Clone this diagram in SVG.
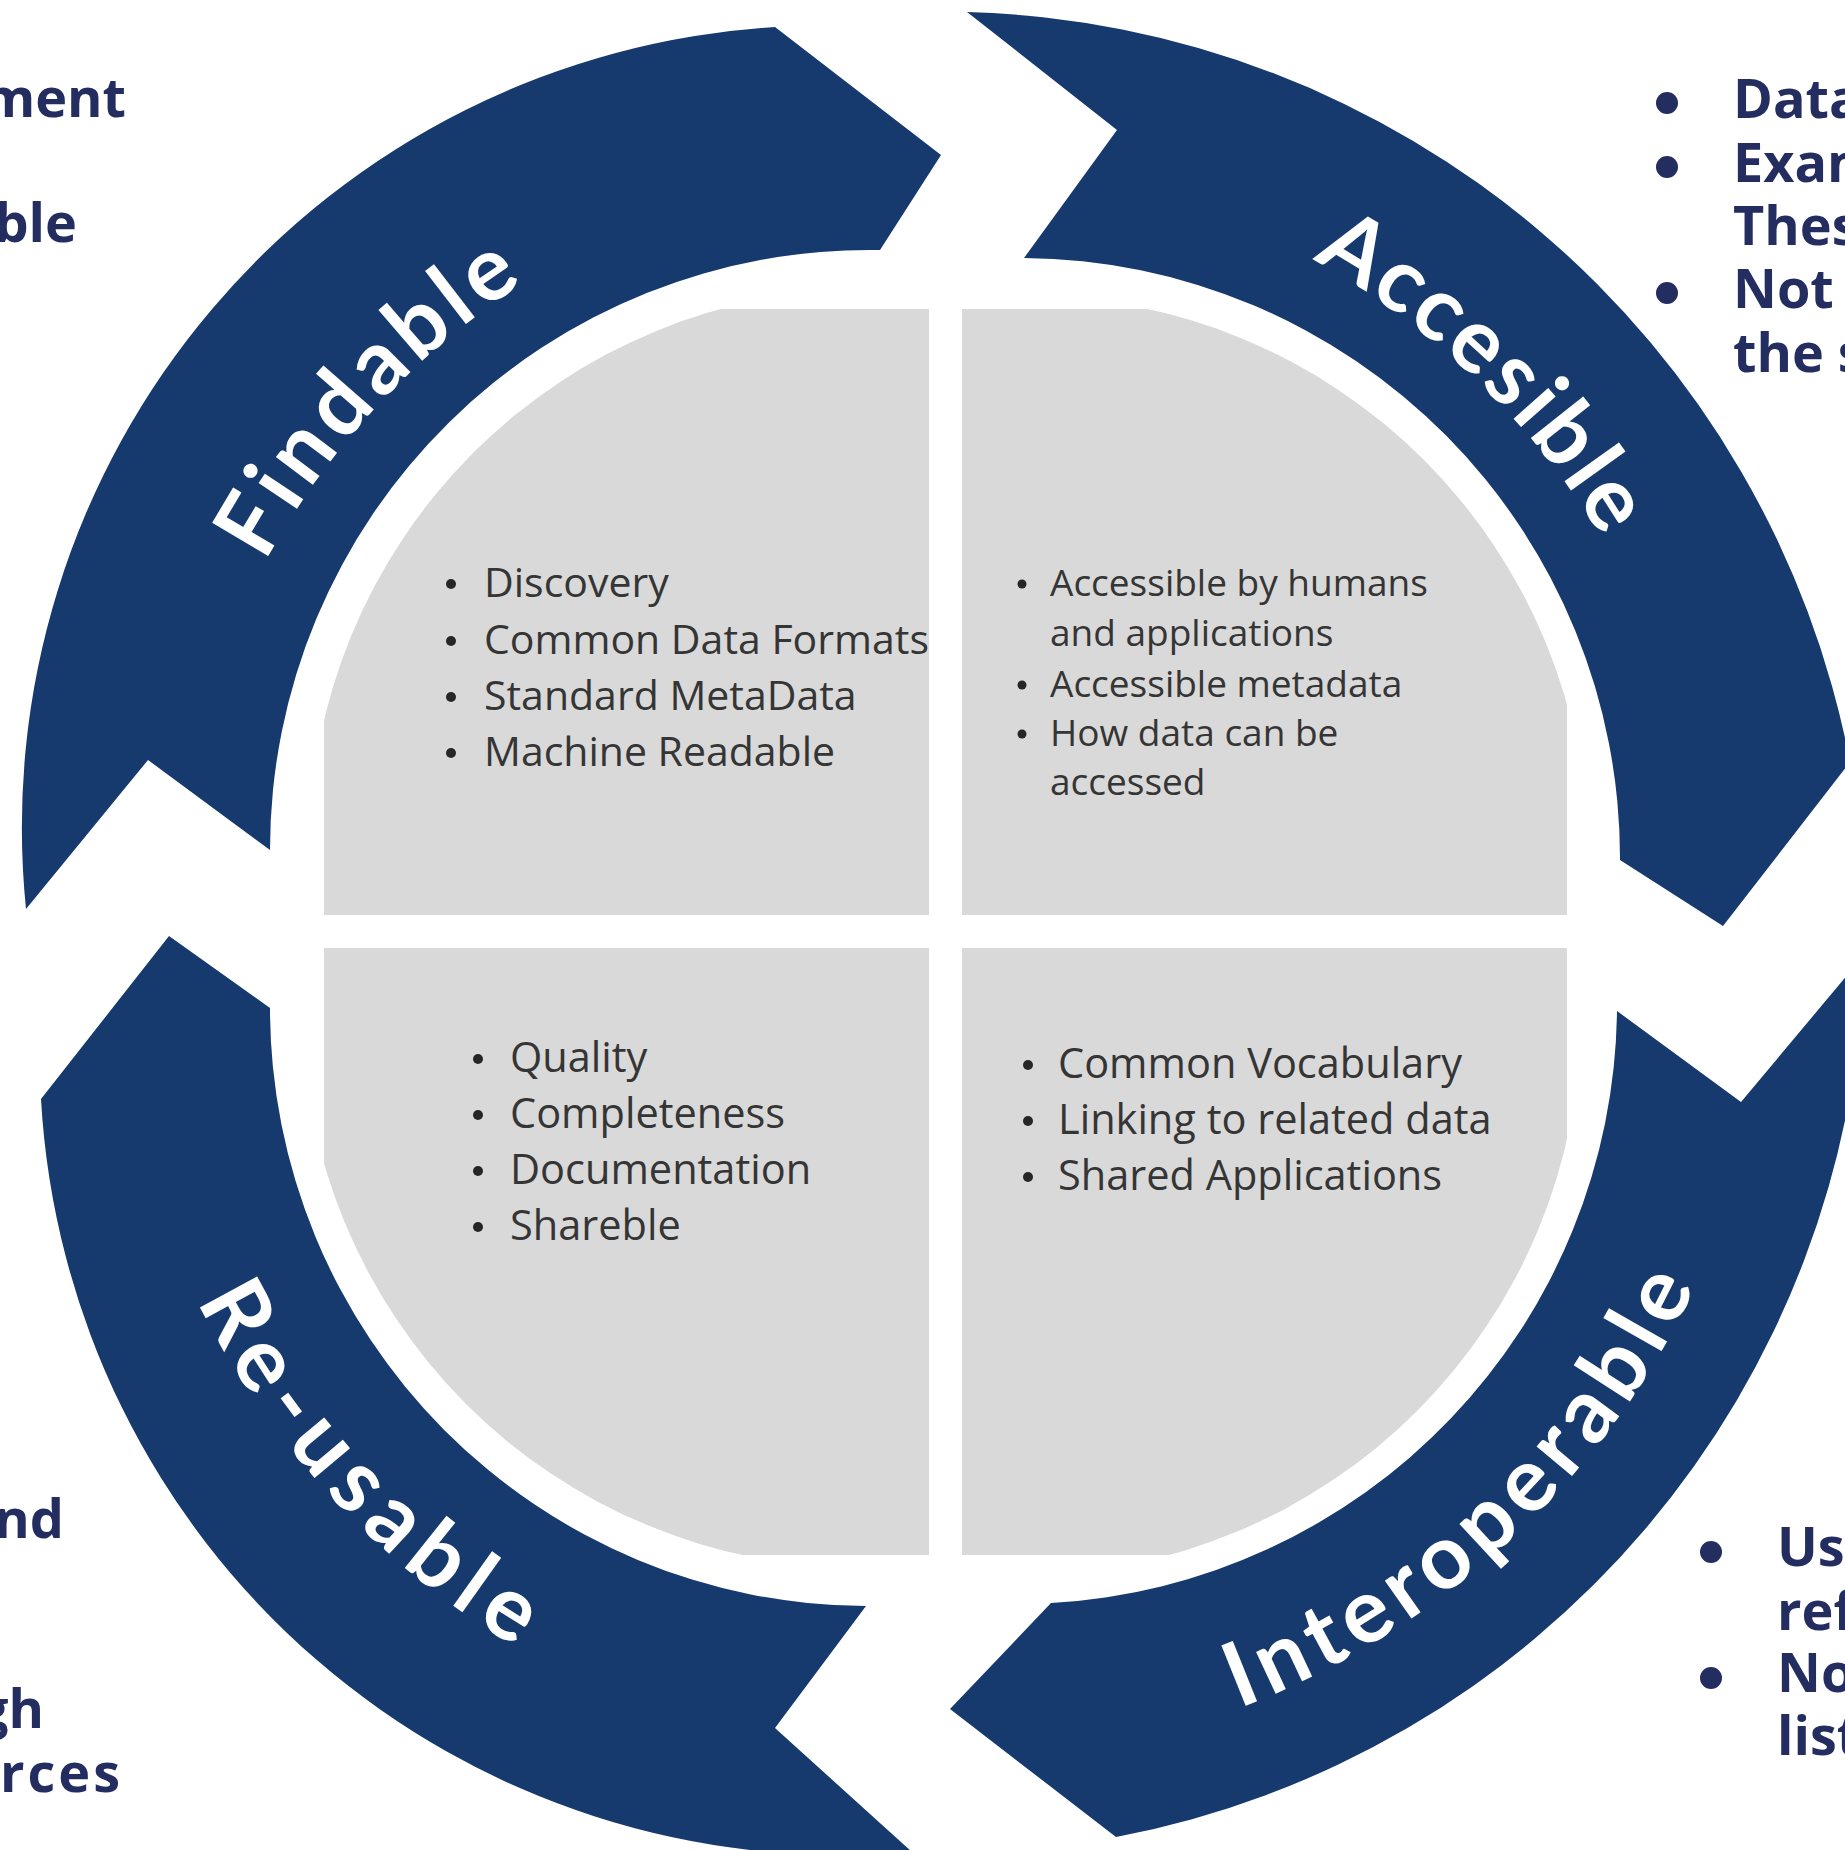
<svg xmlns="http://www.w3.org/2000/svg" width="1845" height="1850" viewBox="0 0 1845 1850">
<style>
.arrow{fill:#16396e}
.quad{fill:#d9d9d9}
.lbl{font-family:Lato,"Open Sans",sans-serif;font-weight:700;font-size:90px;fill:#ffffff}
.item{font-family:"Open Sans","Noto Sans",sans-serif;font-size:41px;fill:#353535}
.small{font-size:37px}
.big{font-size:41.5px}
.side{font-family:"Open Sans","Noto Sans",sans-serif;font-weight:700;font-size:54px;fill:#242d60}
.dot{fill:#262626}
.sdot{fill:#242d60}
</style>
<defs>
<clipPath id="cTL"><circle cx="869" cy="849" r="560"/></clipPath>
<clipPath id="cTR"><circle cx="1028" cy="856" r="560"/></clipPath>
<clipPath id="cBR"><circle cx="1021" cy="1015" r="560"/></clipPath>
<clipPath id="cBL"><circle cx="862" cy="1008" r="560"/></clipPath>
<path id="pF" d="M 171.5 959.2 A 774 774 0 0 1 918 158.5"/>
<path id="pA" d="M 931.6 166.1 A 766 766 0 0 1 1710.9 918.6"/>
<path id="pI" d="M 916 1761.5 A 830 830 0 0 0 1774.5 961"/>
<path id="pR" d="M 111.5 903 A 834 834 0 0 0 916 1765.5"/>
</defs>
<rect width="1845" height="1850" fill="#ffffff"/>
<g id="center">
<rect class="quad" x="324" y="309" width="605" height="606" clip-path="url(#cTL)"/>
<rect class="quad" x="962" y="309" width="605" height="606" clip-path="url(#cTR)"/>
<rect class="quad" x="324" y="948" width="605" height="607" clip-path="url(#cBL)"/>
<rect class="quad" x="962" y="948" width="605" height="607" clip-path="url(#cBR)"/>
</g>
<g id="connectors">
<path id="arrowF" class="arrow" d="M 26 909 A 802 802 0 0 1 775 27 L 941 155 L 880 250 A 600 600 0 0 0 270 850 L 148 760 Z"/>
<path id="arrowA" class="arrow" d="M 967 12 A 925 925 0 0 1 1850 762 L 1723 926 L 1620 860 A 600 600 0 0 0 1024 258 L 1117 130 Z"/>
<path id="arrowI" class="arrow" d="M 1864 955 A 920 920 0 0 1 1116 1837 L 950 1709 L 1051 1603 A 600 600 0 0 0 1617 1011 L 1741 1102 Z"/>
<path id="arrowR" class="arrow" d="M 912 1852 A 801 801 0 0 1 41 1099 L 169 936 L 270 1008 A 598 598 0 0 0 866 1606 L 775 1728 Z"/>
</g>
<g id="findable">
<text class="lbl" letter-spacing="6"><textPath href="#pF" startOffset="50%" text-anchor="middle">Findable</textPath></text>
<circle class="dot" cx="451" cy="584" r="5"/><text class="item" x="484" y="597">Discovery</text>
<circle class="dot" cx="451" cy="641" r="5"/><text class="item" x="484" y="654">Common Data Formats</text>
<circle class="dot" cx="451" cy="697" r="5"/><text class="item" x="484" y="710">Standard MetaData</text>
<circle class="dot" cx="451" cy="753" r="5"/><text class="item" x="484" y="766">Machine Readable</text>
</g>
<g id="accesible">
<text class="lbl" letter-spacing="3.5"><textPath href="#pA" startOffset="50%" text-anchor="middle">Accesible</textPath></text>
<circle class="dot" cx="1022" cy="584" r="4.5"/><text class="item small" x="1050" y="596">Accessible by humans</text>
<text class="item small" x="1050" y="646">and applications</text>
<circle class="dot" cx="1022" cy="685" r="4.5"/><text class="item small" x="1050" y="697">Accessible metadata</text>
<circle class="dot" cx="1022" cy="734" r="4.5"/><text class="item small" x="1050" y="746">How data can be</text>
<text class="item small" x="1050" y="795">accessed</text>
</g>
<g id="interoperable">
<text class="lbl" letter-spacing="8"><textPath href="#pI" startOffset="50%" text-anchor="middle">Interoperable</textPath></text>
<circle class="dot" cx="1028" cy="1065" r="5"/><text class="item big" x="1058" y="1078">Common Vocabulary</text>
<circle class="dot" cx="1028" cy="1121" r="5"/><text class="item big" x="1058" y="1134">Linking to related data</text>
<circle class="dot" cx="1028" cy="1177" r="5"/><text class="item big" x="1058" y="1190">Shared Applications</text>
</g>
<g id="reusable">
<text class="lbl" letter-spacing="10.4"><textPath href="#pR" startOffset="50%" text-anchor="middle">Re-usable</textPath></text>
<circle class="dot" cx="478" cy="1059" r="5"/><text class="item big" x="510" y="1072">Quality</text>
<circle class="dot" cx="478" cy="1115" r="5"/><text class="item big" x="510" y="1128">Completeness</text>
<circle class="dot" cx="478" cy="1171" r="5"/><text class="item big" x="510" y="1184">Documentation</text>
<circle class="dot" cx="478" cy="1227" r="5"/><text class="item big" x="510" y="1240">Shareble</text>
</g>
<g id="side-left">
<text class="side" x="126" y="117" text-anchor="end">ment</text>
<text class="side" x="77" y="242" text-anchor="end">ble</text>
<text class="side" x="64" y="1538" text-anchor="end">nd</text>
<text class="side" x="44" y="1728" text-anchor="end">gh</text>
<text class="side" x="123" y="1792" text-anchor="end" letter-spacing="3">rces</text>
</g>
<g id="side-right-top">
<circle class="sdot" cx="1667" cy="103" r="11"/><text class="side" x="1733" y="118">Data</text>
<circle class="sdot" cx="1667" cy="167" r="11"/><text class="side" x="1733" y="182">Exam</text>
<text class="side" x="1733" y="245">Thes</text>
<circle class="sdot" cx="1667" cy="293" r="11"/><text class="side" x="1733" y="308">Not</text>
<text class="side" x="1733" y="372">the s</text>
</g>
<g id="side-right-bottom">
<circle class="sdot" cx="1711" cy="1552" r="11"/><text class="side" x="1777" y="1566">Us</text>
<text class="side" x="1777" y="1630">ref</text>
<circle class="sdot" cx="1711" cy="1678" r="11"/><text class="side" x="1777" y="1692">No</text>
<text class="side" x="1777" y="1755">list</text>
</g>
</svg>
